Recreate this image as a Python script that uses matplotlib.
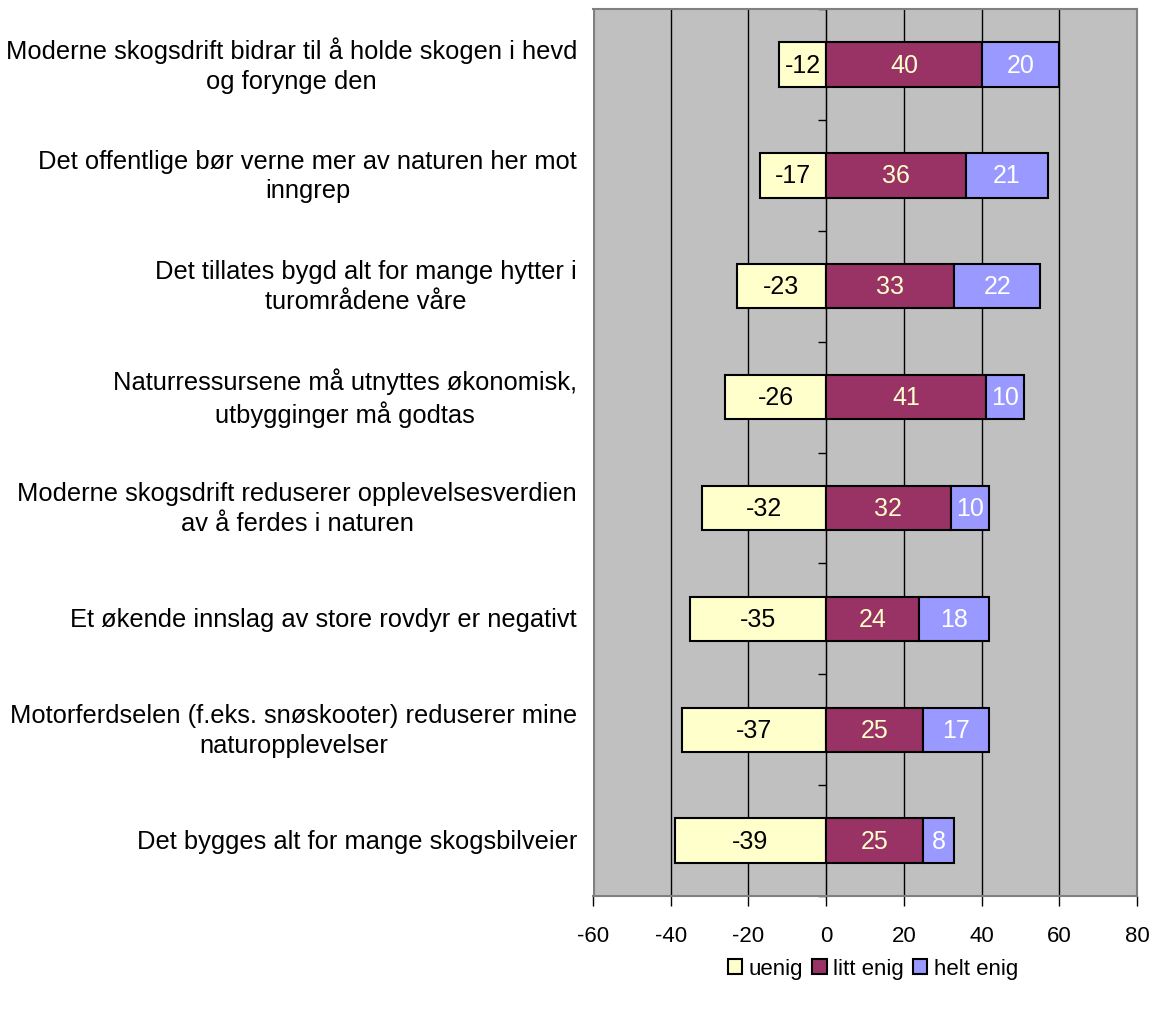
import matplotlib
matplotlib.use("Agg")
import matplotlib.pyplot as plt
from matplotlib.patches import Patch
import numpy as np

plt.rcParams['font.family'] = ['Liberation Sans', 'DejaVu Sans']

statements = [
    "Moderne skogsdrift bidrar til å holde skogen i hevd\nog forynge den",
    "Det offentlige bør verne mer av naturen her mot\ninngrep",
    "Det tillates bygd alt for mange hytter i\nturområdene våre",
    "Naturressursene må utnyttes økonomisk,\nutbygginger må godtas",
    "Moderne skogsdrift reduserer opplevelsesverdien\nav å ferdes i naturen",
    "Et økende innslag av store rovdyr er negativt",
    "Motorferdselen (f.eks. snøskooter) reduserer mine\nnaturopplevelser",
    "Det bygges alt for mange skogsbilveier",
]
uenig = [-12, -17, -23, -26, -32, -35, -37, -39]
litt_enig = [40, 36, 33, 41, 32, 24, 25, 25]
helt_enig = [20, 21, 22, 10, 10, 18, 17, 8]

series_names = ["uenig", "litt enig", "helt enig"]
colors = ["#FFFFCC", "#993366", "#9999FF"]
label_colors = ["black", "#FFFFCC", "white"]
x_ticks = [-60, -40, -20, 0, 20, 40, 60, 80]

fig = plt.figure(figsize=(11.58, 10.12), dpi=100)
ax = fig.add_axes([0.512, 0.1136, 0.470, 0.8764])
ax.set_facecolor("#C0C0C0")

n = len(statements)
y = np.arange(n)
h = 0.4

ax.barh(y, uenig, height=h, color=colors[0], edgecolor="black", linewidth=1.5, zorder=3)
ax.barh(y, litt_enig, height=h, color=colors[1], edgecolor="black", linewidth=1.5, zorder=3)
ax.barh(y, helt_enig, left=litt_enig, height=h, color=colors[2], edgecolor="black", linewidth=1.5, zorder=3)

fs_bar = 18
fs_cat = 18.4
fs_tick = 16
fs_leg = 16
for i in range(n):
    ax.text(uenig[i] / 2, y[i], f"{uenig[i]}", ha="center", va="center",
            fontsize=fs_bar, color=label_colors[0], zorder=4)
    ax.text(litt_enig[i] / 2, y[i], f"{litt_enig[i]}", ha="center", va="center",
            fontsize=fs_bar, color=label_colors[1], zorder=4)
    ax.text(litt_enig[i] + helt_enig[i] / 2, y[i], f"{helt_enig[i]}", ha="center", va="center",
            fontsize=fs_bar, color=label_colors[2], zorder=4)
    ax.annotate(statements[i], xy=(0, y[i]), xycoords=("axes fraction", "data"),
                xytext=(-16, 0), textcoords="offset pixels", ha="right", va="center",
                multialignment="center", fontsize=fs_cat, linespacing=1.3)

ax.set_xlim(-60, 80)
ax.set_ylim(n - 0.5, -0.5)
ax.set_xticks(x_ticks)
ax.set_xticklabels([str(t) for t in x_ticks], fontsize=fs_tick)
ax.tick_params(axis="x", direction="out", length=7, width=1, pad=14, color="black")

# vertical gridlines at interior ticks
for t in x_ticks[1:-1]:
    ax.axvline(t, color="black", linewidth=1, zorder=1)

# category axis at zero with ticks between categories
ax.spines["left"].set_position(("data", 0))
ax.spines["left"].set_color("black")
ax.spines["left"].set_zorder(2)
ax.set_yticks(np.arange(n + 1) - 0.5)
ax.set_yticklabels([])
ax.tick_params(axis="y", direction="out", length=6, width=1, color="black")
for s in ["top", "right", "bottom"]:
    ax.spines[s].set_color("#808080")
    ax.spines[s].set_linewidth(1.5)
ax.axvline(-60, color="#808080", linewidth=3, zorder=2)

handles = [Patch(facecolor=c, edgecolor="black", linewidth=1.5) for c in colors]
fig.legend(handles, series_names, loc="center", bbox_to_anchor=(873 / 1158, 1 - 970 / 1012),
           ncol=3, frameon=False, fontsize=fs_leg, handlelength=0.65, handleheight=0.65,
           handletextpad=0.3, columnspacing=0.4, borderaxespad=0)

fig.savefig("out.png", dpi=100, facecolor="white")
